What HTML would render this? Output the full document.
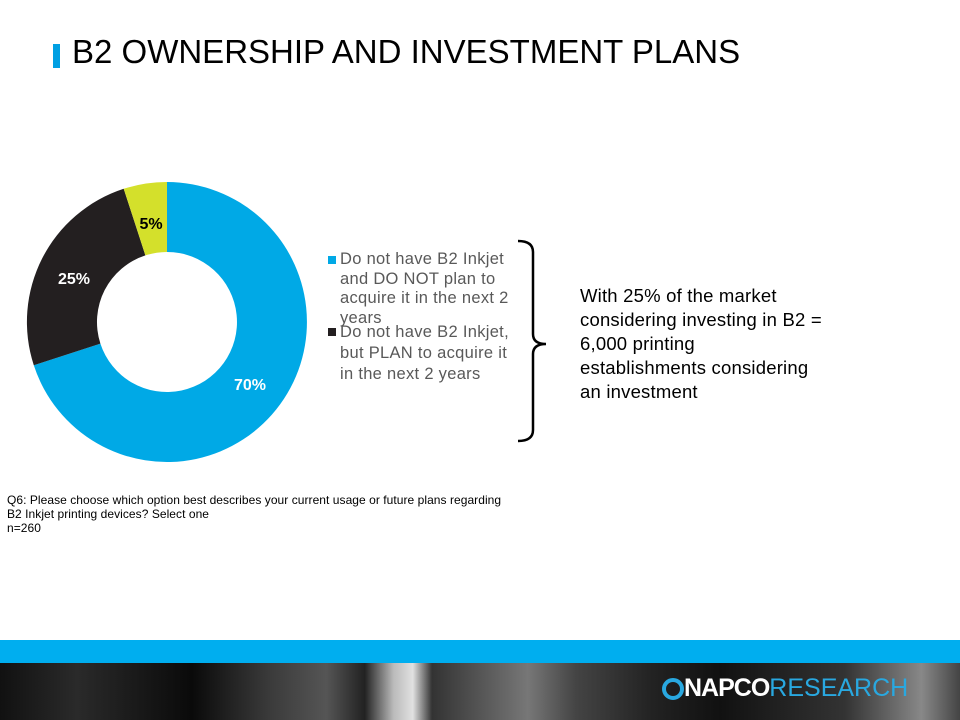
<!DOCTYPE html>
<html><head><style>
body{margin:0;width:960px;height:720px;overflow:hidden;background:#fff;font-family:"Liberation Sans",sans-serif;position:relative}
.t{position:absolute;white-space:nowrap}
</style></head><body>
<div style="position:absolute;left:53px;top:44px;width:7px;height:24px;background:#00a0e3"></div>
<div class="t" style="left:72px;top:33px;font-size:33px;color:#000">B2 OWNERSHIP AND INVESTMENT PLANS</div>
<svg width="960" height="720" style="position:absolute;left:0;top:0">
<path d="M167,182 A140,140 0 1 1 33.8,365.3 L100.4,343.6 A70,70 0 1 0 167,252 Z" fill="#00a9e6"/>
<path d="M33.8,365.3 A140,140 0 0 1 123.7,188.8 L145.4,255.4 A70,70 0 0 0 100.4,343.6 Z" fill="#231f20"/>
<path d="M123.7,188.8 A140,140 0 0 1 167,182 L167,252 A70,70 0 0 0 145.4,255.4 Z" fill="#d4e02b"/>
<text x="250" y="390" font-size="16" font-weight="bold" fill="#fff" text-anchor="middle" font-family="Liberation Sans">70%</text>
<text x="74" y="284" font-size="16" font-weight="bold" fill="#fff" text-anchor="middle" font-family="Liberation Sans">25%</text>
<text x="151" y="229" font-size="16" font-weight="bold" fill="#000" text-anchor="middle" font-family="Liberation Sans">5%</text>
<rect x="328" y="256" width="8" height="8" fill="#00a9e6"/>
<rect x="328" y="328" width="8" height="8" fill="#231f20"/>
<path d="M518,241 Q533,241 533,252 L533,334 Q533,344 546,344 Q533,344 533,354 L533,430 Q533,441 518,441" fill="none" stroke="#000" stroke-width="2.5"/>
</svg>
<div class="t" style="left:340px;top:250px;font-size:16.5px;letter-spacing:0.3px;line-height:19.5px;color:#595959">Do not have B2 Inkjet<br>and DO NOT plan to<br>acquire it in the next 2<br>years</div>
<div class="t" style="left:340px;top:322px;font-size:16.5px;letter-spacing:0.3px;line-height:21px;color:#595959">Do not have B2 Inkjet,<br>but PLAN to acquire it<br>in the next 2 years</div>
<div class="t" style="left:580px;top:284px;font-size:18.5px;letter-spacing:0.2px;line-height:24px;color:#000">With 25% of the market<br>considering investing in B2 =<br>6,000 printing<br>establishments considering<br>an investment</div>
<div class="t" style="left:7px;top:493px;font-size:12px;letter-spacing:0.05px;line-height:14px;color:#000">Q6: Please choose which option best describes your current usage or future plans regarding<br>B2 Inkjet printing devices? Select one<br>n=260</div>
<div style="position:absolute;left:0;top:640px;width:960px;height:23px;background:#00aeef"></div>
<div style="position:absolute;left:0;top:663px;width:960px;height:57px;background:linear-gradient(90deg,#111 0%,#2a2a2a 8%,#0a0a0a 20%,#3a3a3a 28%,#555 34%,#222 38%,#bbb 41%,#e0e0e0 43%,#333 45%,#555 50%,#777 55%,#444 60%,#222 68%,#111 75%,#333 88%,#888 96%,#444 100%)"></div>
<div style="position:absolute;left:662px;top:678px;width:14px;height:14px;border:4px solid #29a8e0;border-radius:50%"></div>
<div class="t" style="left:684px;top:674px;font-size:25px;font-weight:bold;color:#fff;letter-spacing:-1px">NAPCO<span style="font-weight:normal;color:#29a8e0;letter-spacing:0">RESEARCH</span></div>
</body></html>
